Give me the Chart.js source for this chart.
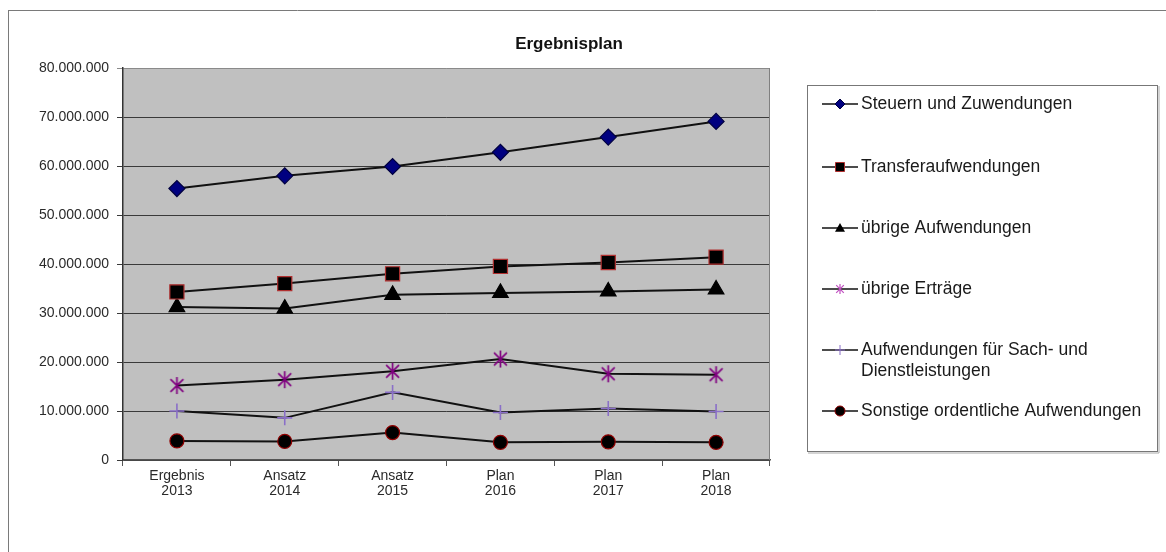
<!DOCTYPE html>
<html lang="de">
<head>
<meta charset="utf-8">
<title>Ergebnisplan</title>
<script src="https://cdn.jsdelivr.net/npm/chart.js@4.4.1/dist/chart.umd.min.js"></script>
<style>
  html, body { margin: 0; padding: 0; background: #fff; }
  #wrap { width: 1166px; height: 552px; }
</style>
</head>
<body>
<div id="wrap"><canvas id="chart" width="1166" height="552"></canvas></div>
<script>
// Ergebnisplan - Werte in Euro
const jahre = [['Ergebnis', '2013'], ['Ansatz', '2014'], ['Ansatz', '2015'], ['Plan', '2016'], ['Plan', '2017'], ['Plan', '2018']];

const steuernZuwendungen = [55400000, 58000000, 59900000, 62800000, 65900000, 69100000];
const transferaufwendungen = [34300000, 36000000, 38000000, 39500000, 40300000, 41400000];
const uebrigeAufwendungen = [31200000, 30900000, 33700000, 34100000, 34400000, 34800000];
const uebrigeErtraege = [15200000, 16400000, 18100000, 20600000, 17600000, 17400000];
const sachDienstleistungen = [10000000, 8600000, 13800000, 9700000, 10500000, 9900000];
const sonstigeAufwendungen = [3900000, 3800000, 5600000, 3600000, 3700000, 3600000];

const yMax = 80000000;
const yStep = 10000000;

const FONT = '"Liberation Sans", Arial, sans-serif';

// Tausenderpunkte wie 80.000.000
function formatZahl(v) {
  return String(Math.round(v)).replace(/\B(?=(\d{3})+(?!\d))/g, '.');
}

// Stern-Marker (X mit senkrechtem Strich) als kleines Canvas
function sternBild(r, farbe, lw) {
  const s = Math.ceil(2 * r + lw + 2);
  const c = document.createElement('canvas');
  c.width = s; c.height = s;
  const g = c.getContext('2d');
  const m = s / 2;
  const d = r * 0.76;
  g.strokeStyle = farbe;
  g.lineWidth = lw;
  g.beginPath();
  g.moveTo(m, m - r); g.lineTo(m, m + r);
  g.moveTo(m - d, m - d); g.lineTo(m + d, m + d);
  g.moveTo(m - d, m + d); g.lineTo(m + d, m - d);
  g.stroke();
  return c;
}

const sternGross = sternBild(8.5, '#800080', 1.7);
const sternKlein = sternBild(5, '#c050c0', 1.2);

const serien = [
  { label: 'Steuern und Zuwendungen', data: steuernZuwendungen, style: 'rectRot', r: 8, fill: '#000080', stroke: '#000040' },
  { label: 'Transferaufwendungen', data: transferaufwendungen, style: 'rect', r: 10, fill: '#000000', stroke: '#b03030' },
  { label: 'übrige Aufwendungen', data: uebrigeAufwendungen, style: 'triangle', r: 9, fill: '#000000', stroke: '#000000' },
  { label: 'übrige Erträge', data: uebrigeErtraege, style: sternGross, r: 8, fill: '#800080', stroke: '#800080', klein: sternKlein },
  { label: ['Aufwendungen für Sach- und', 'Dienstleistungen'], data: sachDienstleistungen, style: 'cross', r: 7.5, fill: '#8a6fc8', stroke: '#8a6fc8' },
  { label: 'Sonstige ordentliche Aufwendungen', data: sonstigeAufwendungen, style: 'circle', r: 7, fill: '#000000', stroke: '#900000' }
];

// Legendenzeilen (Mitte der ersten Textzeile)
const legendeZeilen = [104, 167, 228, 289, 350, 411];

function markerZeichnen(ctx, s, x, y, r) {
  ctx.save();
  ctx.fillStyle = s.fill;
  ctx.strokeStyle = s.stroke;
  ctx.lineWidth = 1;
  ctx.beginPath();
  if (s.style === 'rectRot') {
    ctx.moveTo(x, y - r); ctx.lineTo(x + r, y); ctx.lineTo(x, y + r); ctx.lineTo(x - r, y); ctx.closePath();
    ctx.fill(); ctx.stroke();
  } else if (s.style === 'rect') {
    ctx.rect(x - r, y - r, 2 * r, 2 * r);
    ctx.fill(); ctx.stroke();
  } else if (s.style === 'triangle') {
    ctx.moveTo(x, y - r); ctx.lineTo(x + r, y + r * 0.75); ctx.lineTo(x - r, y + r * 0.75); ctx.closePath();
    ctx.fill();
  } else if (s.style === 'circle') {
    ctx.arc(x, y, r, 0, Math.PI * 2);
    ctx.fill(); ctx.stroke();
  } else if (s.style === 'cross') {
    ctx.moveTo(x, y - r); ctx.lineTo(x, y + r);
    ctx.moveTo(x - r, y); ctx.lineTo(x + r, y);
    ctx.stroke();
  } else if (s.klein) {
    ctx.drawImage(s.klein, x - s.klein.width / 2, y - s.klein.height / 2);
  }
  ctx.restore();
}

const rahmenPlugin = {
  id: 'rahmen',
  beforeDraw(chart) {
    const ctx = chart.ctx;
    const a = chart.chartArea;
    ctx.save();
    ctx.fillStyle = '#ffffff';
    ctx.fillRect(0, 0, chart.width, chart.height);
    // Außenrahmen oben und links
    ctx.strokeStyle = '#7a7a7a';
    ctx.lineWidth = 1;
    ctx.beginPath();
    ctx.moveTo(8, 10.5); ctx.lineTo(chart.width, 10.5);
    ctx.moveTo(8.5, 10); ctx.lineTo(8.5, chart.height);
    ctx.stroke();
    // Zeichenfläche grau
    ctx.fillStyle = '#c0c0c0';
    ctx.fillRect(a.left, a.top, a.right - a.left, a.bottom - a.top);
    ctx.restore();
  },
  afterDraw(chart) {
    const ctx = chart.ctx;
    const a = chart.chartArea;
    ctx.save();
    // rechte Kante der Zeichenfläche
    ctx.strokeStyle = '#808080';
    ctx.lineWidth = 1;
    ctx.beginPath();
    ctx.moveTo(a.right - 0.5, a.top); ctx.lineTo(a.right - 0.5, a.bottom);
    ctx.stroke();

    // Titel
    ctx.fillStyle = '#111';
    ctx.font = 'bold 17px ' + FONT;
    ctx.textAlign = 'center';
    ctx.textBaseline = 'middle';
    ctx.fillText('Ergebnisplan', 569, 44);

    // Legende
    ctx.fillStyle = '#ffffff';
    ctx.fillRect(807, 85, 351, 367);
    ctx.strokeStyle = '#777';
    ctx.strokeRect(807.5, 85.5, 350, 366);
    ctx.strokeStyle = '#aaa';
    ctx.beginPath();
    ctx.moveTo(1159, 86); ctx.lineTo(1159, 453); ctx.lineTo(808, 453);
    ctx.stroke();

    ctx.font = '17.5px ' + FONT;
    ctx.textAlign = 'left';
    ctx.textBaseline = 'middle';
    serien.forEach((s, i) => {
      const y = legendeZeilen[i];
      ctx.strokeStyle = '#111';
      ctx.lineWidth = 1.6;
      ctx.beginPath();
      ctx.moveTo(822, y); ctx.lineTo(858, y);
      ctx.stroke();
      const r = s.style === 'rect' ? 4.5 : 5;
      markerZeichnen(ctx, s, 840, y, r);
      ctx.fillStyle = '#1a1a1a';
      const zeilen = Array.isArray(s.label) ? s.label : [s.label];
      zeilen.forEach((t, k) => ctx.fillText(t, 861, y + k * 21));
    });
    ctx.restore();
  }
};

new Chart(document.getElementById('chart'), {
  type: 'line',
  data: {
    labels: jahre,
    datasets: serien.map(s => ({
      label: Array.isArray(s.label) ? s.label.join(' ') : s.label,
      data: s.data,
      borderColor: '#111111',
      borderWidth: 2,
      tension: 0,
      fill: false,
      pointStyle: s.style,
      pointRadius: s.r,
      pointHoverRadius: s.r,
      pointBackgroundColor: s.fill,
      pointBorderColor: s.stroke,
      pointBorderWidth: s.style === 'cross' ? 1.6 : 1.2
    }))
  },
  options: {
    responsive: false,
    animation: false,
    events: [],
    layout: { padding: { left: 0, top: 68, right: 396, bottom: 0 } },
    plugins: {
      legend: { display: false },
      title: { display: false },
      tooltip: { enabled: false }
    },
    scales: {
      x: {
        offset: true,
        afterFit(scale) { scale.height = 92; },
        grid: {
          offset: true,
          drawOnChartArea: false,
          drawTicks: true,
          tickLength: 6,
          color: '#555'
        },
        border: { display: true, color: '#555', width: 1.5 },
        ticks: {
          color: '#2a2a2a',
          font: { family: FONT, size: 14, lineHeight: 1.1 },
          padding: 2,
          maxRotation: 0,
          autoSkip: false
        }
      },
      y: {
        min: 0,
        max: yMax,
        afterFit(scale) { scale.width = 123; },
        grid: {
          color: ctx => (ctx.tick && ctx.tick.value === yMax ? '#8a8a8a' : '#3a3a3a'),
          lineWidth: 1,
          drawTicks: true,
          tickLength: 6
        },
        border: { display: true, color: '#333', width: 1.5 },
        ticks: {
          stepSize: yStep,
          color: '#2a2a2a',
          font: { family: FONT, size: 14 },
          padding: 8,
          callback: v => formatZahl(v)
        }
      }
    }
  },
  plugins: [rahmenPlugin]
});
</script>
</body>
</html>
